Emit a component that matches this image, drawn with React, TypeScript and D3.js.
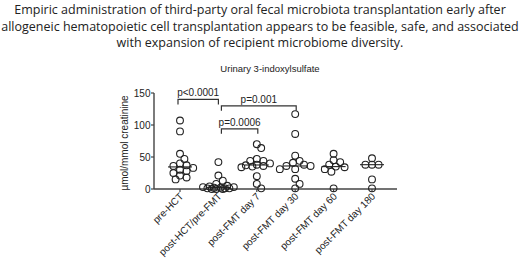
import React from "react";
import * as d3 from "d3";

const categories = ["pre-HCT", "post-HCT/pre-FMT", "post-FMT day 7", "post-FMT day 30", "post-FMT day 60", "post-FMT day 180"];
const preHCT = [107, 90, 55, 47, 40, 37, 36, 33, 30, 28, 25, 21, 18, 15];
const postHCT = [42, 21, 13, 8, 5, 4, 3, 3, 2, 2, 1, 1, 1, 0, 0, 0];
const day7 = [70, 64, 47, 44, 44, 40, 38, 37, 36, 35, 34, 20, 8, 1];
const day30 = [117, 86, 52, 44, 41, 38, 36, 36, 31, 31, 16, 8, 1];
const day60 = [55, 45, 42, 38, 35, 34, 31, 27, 1];
const day180 = [48, 38, 38, 38, 15, 1];
const seriesValues = [preHCT, postHCT, day7, day30, day60, day180];
const yTicks = [0, 50, 100, 150];
const titleLines = [
  "Empiric administration of third-party oral fecal microbiota transplantation early after",
  "allogeneic hematopoietic cell transplantation appears to be feasible, safe, and associated",
  "with expansion of recipient microbiome diversity.",
];
const chartTitle = "Urinary 3-indoxylsulfate";
const yLabel = "µmol/mmol creatinine";
const comparisons = [
  { from: 0, to: 1, label: "p<0.0001", value: 140 },
  { from: 1, to: 3, label: "p=0.001", value: 130 },
  { from: 1, to: 2, label: "p=0.0006", value: 94 },
];

const R = 3.4;

function beeswarm(vals: number[], cx: number, y: (v: number) => number) {
  const placed: { x: number; y: number }[] = [];
  const sorted = [...vals].sort((a, b) => b - a);
  const step = 2.2;
  const minD = 2 * R * 0.82;
  for (const v of sorted) {
    const py = y(v);
    let best = cx, bestScore = Infinity;
    for (let k = 0; k < 15; k++) {
      const off = k === 0 ? 0 : Math.ceil(k / 2) * step * (k % 2 ? 1 : -1);
      const tx = cx + off;
      const dmin = placed.reduce((m, p) => Math.min(m, Math.hypot(p.x - tx, p.y - py)), Infinity);
      if (dmin >= minD) { best = tx; bestScore = -1; break; }
      const score = -dmin;
      if (score < bestScore) { bestScore = score; best = tx; }
    }
    placed.push({ x: best, y: py });
  }
  return placed;
}

export default function App() {
  const W = 520, H = 267;
  const x = d3.scalePoint<string>().domain(categories).range([180, 372]);
  const y = d3.scaleLinear().domain([0, 150]).range([189, 93]);
  const axisX0 = 154, axisX1 = 397;
  const font = "'Liberation Sans', Arial, sans-serif";

  return (
    <svg width={W} height={H} style={{ position: "absolute", left: 0, top: 0, background: "#fff" }}>
      <g fontFamily="'Open Sans', sans-serif" fontSize={12.5} fill="#222" textAnchor="middle">
        {titleLines.map((t, i) => (
          <text key={i} x={260} y={14 + i * 16.5}>{t}</text>
        ))}
      </g>
      <text x={270} y={72} fontFamily={font} fontSize={9.5} textAnchor="middle" fill="#222">{chartTitle}</text>
      <line x1={axisX0} x2={axisX0} y1={y(150)} y2={y(0)} stroke="#444" strokeWidth={1.4} />
      <line x1={axisX0} x2={axisX1} y1={y(0)} y2={y(0)} stroke="#444" strokeWidth={1.4} />
      {yTicks.map((t) => (
        <g key={t}>
          <line x1={axisX0 - 3} x2={axisX0} y1={y(t)} y2={y(t)} stroke="#444" strokeWidth={1.2} />
          <text x={axisX0 - 3.5} y={y(t) + 3.6} fontFamily={font} fontSize={10} textAnchor="end" fill="#222">{t}</text>
        </g>
      ))}
      <text transform={`translate(128,${(y(0) + y(150)) / 2 + 2}) rotate(-90)`} fontFamily={font} fontSize={10} textAnchor="middle" fill="#222">{yLabel}</text>
      {categories.map((c) => (
        <g key={c}>
          <line x1={x(c)!} x2={x(c)!} y1={y(0)} y2={y(0) + 3} stroke="#444" strokeWidth={1.2} />
          <text transform={`translate(${x(c)! + 4},${y(0) + 8}) rotate(-45)`} fontFamily={font} fontSize={10} textAnchor="end" fill="#222">{c}</text>
        </g>
      ))}
      {seriesValues.map((vals, i) => {
        const cx = x(categories[i])!;
        const pts = beeswarm(vals, cx, y);
        const med = d3.median(vals)!;
        return (
          <g key={i}>
            <line x1={cx - 12} x2={cx + 12} y1={y(med)} y2={y(med)} stroke="#222" strokeWidth={1.1} />
            {pts.map((p, j) => (
              <circle key={j} cx={p.x} cy={p.y} r={R} fill="none" stroke="#222" strokeWidth={1.1} />
            ))}
          </g>
        );
      })}
      {comparisons.map((cmp, i) => {
        const x1 = x(categories[cmp.from])! + (cmp.from === 1 ? 3 : -2);
        const x2 = x(categories[cmp.to])! + (cmp.to === 1 ? 0 : 1);
        const yy = y(cmp.value);
        return (
          <g key={i}>
            <path d={`M${x1},${yy + 5}V${yy}H${x2}V${yy + 5}`} fill="none" stroke="#333" strokeWidth={1.2} />
            <text x={(x1 + x2) / 2} y={yy - 3} fontFamily={font} fontSize={10} textAnchor="middle" fill="#222">{cmp.label}</text>
          </g>
        );
      })}
    </svg>
  );
}
